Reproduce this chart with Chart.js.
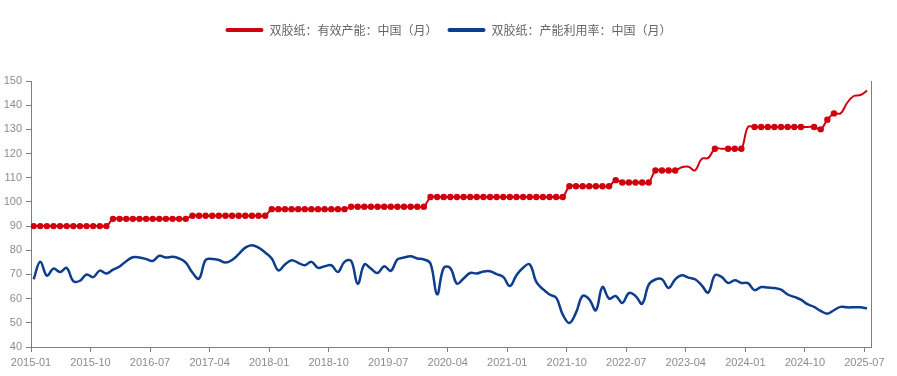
<!DOCTYPE html>
<html>
<head>
<meta charset="utf-8">
<script src="https://cdn.jsdelivr.net/npm/chart.js@4/dist/chart.umd.min.js"></script>
<style>
  html, body { margin: 0; padding: 0; background: #fff; }
  #wrap { width: 897px; height: 376px; position: relative; }
</style>
</head>
<body>
<div id="wrap"><canvas id="c"></canvas></div>
<script>
// ---- data ----
const seriesNames = ['双胶纸：有效产能：中国（月）', '双胶纸：产能利用率：中国（月）'];

// months 2015-01 .. 2025-07
const months = [];
for (let y = 2015; y <= 2025; y++) {
  for (let m = 1; m <= 12; m++) {
    if (y === 2025 && m > 7) break;
    months.push(y + '-' + String(m).padStart(2, '0'));
  }
}

const xTickLabels = ['2015-01','2015-10','2016-07','2017-04','2018-01','2018-10','2019-07',
  '2020-04','2021-01','2021-10','2022-07','2023-04','2024-01','2024-10','2025-07'];
const yTicks = [40, 50, 60, 70, 80, 90, 100, 110, 120, 130, 140, 150];

// 有效产能 (万吨)
const capacity = [
  90,90,90,90,90,90,90,90,90,90,90,90,
  93,93,93,93,93,93,93,93,93,93,93,93,
  94.3,94.3,94.3,94.3,94.3,94.3,94.3,94.3,94.3,94.3,94.3,94.3,
  97,97,97,97,97,97,97,97,97,97,97,97,
  98,98,98,98,98,98,98,98,98,98,98,98,
  102,102,102,102,102,102,102,102,102,102,102,102,102,102,102,102,102,102,102,102,102,
  106.5,106.5,106.5,106.5,106.5,106.5,106.5,
  109,
  108,108,108,108,108,
  113,113,113,113,
  114.3,114.5,113,117.8,118.2,
  122,122,122,122,122,
  131,131,131,131,131,131,131,131,131,131,
  131,130,134,136.6,136.6,141,143.8,144.2,146
];

// months of the capacity series drawn without a marker
const capacityUnmarked = ['2023-03','2023-04','2023-05','2023-06','2023-07','2023-09',
  '2024-01','2024-10','2025-03','2025-04','2025-05','2025-06','2025-07'];

// 产能利用率 (%)
const utilization = [
  68.0,75.3,69.5,72.4,71.0,72.7,67.2,67.4,70.0,68.9,71.6,70.4,
  72.0,73.3,75.5,77.1,77.0,76.4,75.6,77.7,77.0,77.3,76.6,74.9,
  70.8,68.3,76.0,76.4,76.0,74.9,76.0,78.4,81.1,82.1,81.1,79.1,
  76.6,71.7,74.1,75.9,74.8,73.8,75.2,72.7,73.4,73.8,71.0,75.2,
  75.6,66.1,74.1,72.4,70.6,73.4,71.5,76.2,77.0,77.5,76.6,76.2,
  74.5,61.8,72.7,72.6,66.2,68.3,70.6,70.4,71.2,71.3,70.1,69.0,
  65.2,69.7,72.8,74.2,66.9,63.9,61.7,60.4,53.4,49.9,54.2,61.1,
  59.7,55.2,64.8,60.0,61.1,58.2,62.3,61.1,57.9,65.8,67.9,68.0,
  64.4,68.0,69.7,68.7,68.0,65.5,62.5,69.7,69.0,66.5,67.6,66.5,
  66.4,63.5,64.8,64.6,64.4,63.7,61.7,60.7,59.6,57.7,56.6,54.9,
  53.8,55.2,56.6,56.4,56.4,56.4,56.0
];

// ---- chart ----
const RED = '#d0000f';
const BLUE = '#0d3d8c';
const AXIS = '#7f7f7f';
const LABEL = '#8c8c8c';
const POINT_SHIFT = 0.4; // values are plotted part-way into their month

const toPoints = arr => months.map((m, i) => ({ x: i + POINT_SHIFT, y: arr[i] }));

const legendSpacer = {
  id: 'legendSpacer',
  beforeInit(chart) {
    const fit = chart.legend.fit;
    chart.legend.fit = function () {
      fit.bind(chart.legend)();
      this.height += 35;
    };
  }
};

new Chart(document.getElementById('c'), {
  type: 'line',
  data: {
    datasets: [
      {
        label: seriesNames[0],
        data: toPoints(capacity),
        borderColor: RED,
        backgroundColor: RED,
        borderWidth: 2,
        tension: 0.4,
        pointRadius: ctx => capacityUnmarked.includes(months[ctx.dataIndex]) ? 0 : 3.2,
        pointBackgroundColor: RED,
        pointBorderColor: RED,
        pointBorderWidth: 0,
        yAxisID: 'y'
      },
      {
        label: seriesNames[1],
        data: toPoints(utilization),
        borderColor: BLUE,
        backgroundColor: BLUE,
        borderWidth: 2.5,
        tension: 0.4,
        pointRadius: 0,
        yAxisID: 'y'
      }
    ]
  },
  options: {
    responsive: true,
    maintainAspectRatio: false,
    animation: false,
    events: [],
    layout: { padding: { top: 14, left: 0, right: 0, bottom: 0 } },
    plugins: {
      legend: {
        position: 'top',
        align: 'center',
        labels: {
          boxWidth: 38,
          boxHeight: 4,
          padding: 10,
          color: '#666',
          useBorderRadius: true,
          font: { family: '"Noto Sans CJK SC", "Noto Sans", sans-serif', size: 12 },
          generateLabels(chart) {
            const items = Chart.defaults.plugins.legend.labels.generateLabels(chart);
            items.forEach(it => { it.lineWidth = 0; it.borderRadius = 2; });
            return items;
          }
        }
      },
      tooltip: { enabled: false }
    },
    scales: {
      x: {
        type: 'linear',
        position: 'bottom',
        min: 0,
        max: months.length,
        afterBuildTicks: s => { s.ticks = xTickLabels.map(l => ({ value: months.indexOf(l) })); },
        afterFit: s => { s.height = 29; },
        grid: { drawOnChartArea: false, drawTicks: true, tickLength: 5, color: AXIS },
        border: { display: true, color: AXIS, width: 1 },
        ticks: {
          autoSkip: false,
          maxRotation: 0,
          padding: 4,
          color: LABEL,
          font: { family: '"Liberation Sans", Arial, sans-serif', size: 11 },
          callback: v => months[Math.round(v)] || ''
        }
      },
      y: {
        type: 'linear',
        position: 'left',
        min: yTicks[0],
        max: yTicks[yTicks.length - 1],
        afterBuildTicks: s => { s.ticks = yTicks.map(v => ({ value: v })); },
        afterFit: s => { s.width = 31; },
        grid: { drawOnChartArea: false, drawTicks: true, tickLength: 5, color: AXIS },
        border: { display: true, color: AXIS, width: 1 },
        ticks: {
          padding: 4,
          color: LABEL,
          font: { family: '"Liberation Sans", Arial, sans-serif', size: 11 }
        }
      },
      y2: {
        type: 'linear',
        position: 'right',
        min: yTicks[0],
        max: yTicks[yTicks.length - 1],
        afterFit: s => { s.width = 26; },
        grid: { display: false, drawOnChartArea: false },
        border: { display: true, color: AXIS, width: 1 },
        ticks: { display: false }
      }
    }
  },
  plugins: [legendSpacer]
});
</script>
</body>
</html>
